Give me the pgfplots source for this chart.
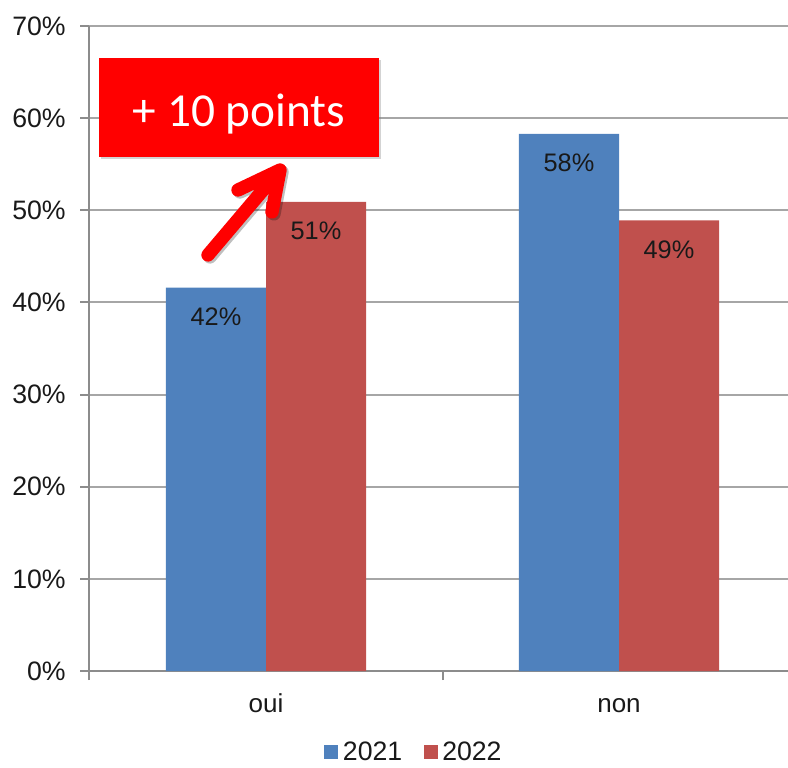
\documentclass[border=0pt]{standalone}
\usepackage{pgfplots}
\pgfplotsset{compat=1.18}
\usepackage{fontspec}
\setmainfont{Liberation Sans}
\newfontfamily\calibri{Carlito}
\usetikzlibrary{shadows}
\definecolor{c21}{HTML}{4F81BD}
\definecolor{c22}{HTML}{C0504D}
\definecolor{gridc}{HTML}{A6A6A6}
\definecolor{axc}{HTML}{8C8C8C}
\begin{document}
\begin{tikzpicture}
\begin{axis}[
  /pgf/number format/assume math mode=true,
  scale only axis, width=529.5pt, height=483.75pt,
  xmin=-0.5, xmax=1.5, ymin=0, ymax=70,
  ybar=0pt, bar width=0.2833,
  axis lines*=left,
  axis line style={draw=axc, line width=1.5pt},
  tick align=outside,
  xtick={0,1}, xticklabels={oui,non},
  major x tick style={draw=none},
  extra x ticks={-0.5,0.5,1.5}, extra x tick labels={},
  extra x tick style={major x tick style={draw=axc, line width=1.5pt}, major tick length=6.75pt},
  ytick={0,10,...,70},
  yticklabel={\pgfmathprintnumber{\tick}\%},
  ymajorgrids, grid style={draw=gridc, line width=1.5pt},
  major tick length=6.75pt,
  every tick/.style={draw=axc, line width=1.5pt},
  yticklabel style={font=\fontsize{20}{22}\selectfont, text=black!90, anchor=east, inner sep=0pt, xshift=-10.9pt},
  xticklabel style={font=\fontsize{19.5}{22}\selectfont, text=black!90, anchor=base, inner sep=0pt, yshift=-24pt},
  nodes near coords={\pgfmathprintnumber[fixed,precision=0]{\pgfplotspointmeta}\%},
  every node near coord/.append style={anchor=center, yshift=-21.75pt, font=\fontsize{19}{22}\selectfont, text=black!90},
  legend style={at={(0.46,-0.1256)}, anchor=center, draw=none, fill=none,
    legend columns=2, font=\fontsize{20}{22}\selectfont, text=black!90,
    /tikz/every even column/.append style={column sep=14pt},
    /tikz/every odd column/.append style={column sep=1.5pt}},
  legend image code/.code={\fill[#1] (0pt,-5.25pt) rectangle (10.5pt,5.25pt);},
]
\addplot[fill=c21, draw=none] coordinates {(0,41.6) (1,58.3)};
\addplot[fill=c22, draw=none] coordinates {(0,50.9) (1,48.9)};
\legend{2021,2022}
% annotation
\node[fill=red, minimum width=210pt, minimum height=74.25pt, inner sep=0pt,
      drop shadow={opacity=0.35, shadow xshift=1.5pt, shadow yshift=-1.5pt}]
  at (axis cs:-0.0765,61.16) {};
\node[text=white, inner sep=0pt, font=\calibri\fontsize{35.5}{40}\selectfont]
  at (axis cs:-0.0765,60.4) {+ 10 points};
\draw[black, opacity=0.25, line width=10pt, line cap=round, line join=round, transform canvas={shift={(1.5pt,-1.5pt)}}]
  (axis cs:-0.1643,45.15) -- (axis cs:0.0397,54.37)
  (axis cs:-0.0793,52.20) -- (axis cs:0.0397,54.37) -- (axis cs:0.0170,49.82);
\draw[red, line width=10pt, line cap=round, line join=round]
  (axis cs:-0.1643,45.15) -- (axis cs:0.0397,54.37)
  (axis cs:-0.0793,52.20) -- (axis cs:0.0397,54.37) -- (axis cs:0.0170,49.82);
\end{axis}
\pgfresetboundingbox
\path ([shift={(-67.125pt,-72pt)}]current axis.south west) rectangle ([shift={(523.875pt,503.25pt)}]current axis.south west);
\end{tikzpicture}
\end{document}
